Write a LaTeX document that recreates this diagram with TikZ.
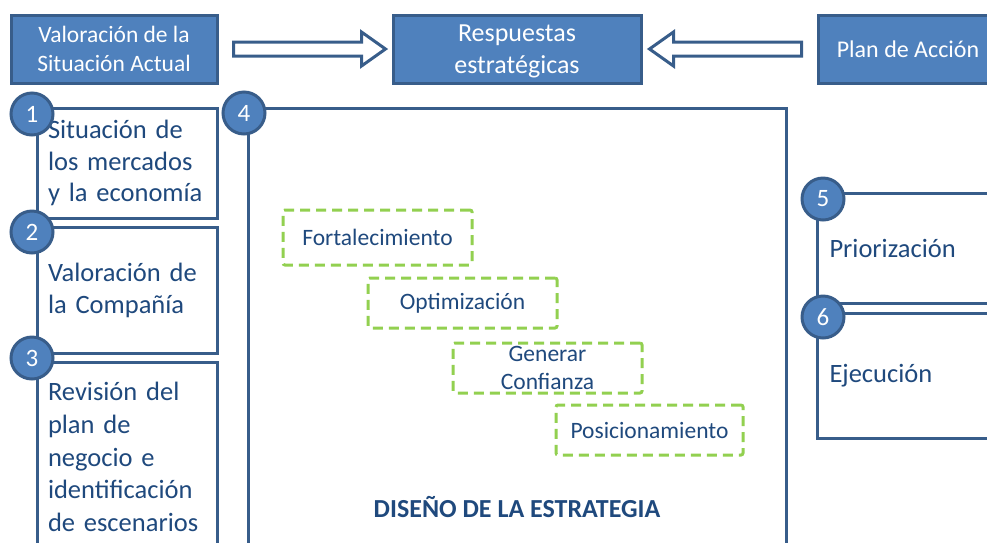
\documentclass[tikz,border=0pt]{standalone}
\usepackage{fontspec}
\setmainfont{Carlito}
\usetikzlibrary{calc}

\begin{document}
\begin{tikzpicture}[x=1pt,y=-1pt,
  topbox/.style={draw=edge,line width=3pt,fill=accent,text=white,align=center,inner sep=0pt},
  stagebox/.style={draw=edge,line width=3pt,fill=white,text=ink,align=left,inner xsep=11pt,anchor=center},
  numcirc/.style={circle,draw=edge,line width=3pt,fill=accent,text=white,minimum size=42pt,inner sep=0pt,font=\fontsize{25}{28}\selectfont},
  linebox/.style={draw=leaf,line width=3pt,dash pattern=on 10pt off 6pt,rounded corners=2pt,text=ink,align=center,inner sep=0pt,font=\fontsize{23.5}{28}\selectfont},
  hollow/.style={draw=edge,line width=3pt,fill=white,line join=miter}]
% Define colours
\definecolor{accent}{RGB}{79,129,189}
\definecolor{edge}{RGB}{56,93,138}
\definecolor{ink}{RGB}{31,73,125}
\definecolor{leaf}{RGB}{146,208,80}

\clip (0,0) rectangle (987,542);

% Top row
\node[topbox,minimum width=206,minimum height=68,font=\fontsize{23.5}{29}\selectfont] (valor) at (114,49) {Valoración de la\\Situación Actual};
\node[topbox,minimum width=248,minimum height=68,font=\fontsize{26}{32}\selectfont] (resp) at (517,49) {\strut Respuestas\\estratégicas};
\node[topbox,minimum width=180,minimum height=68,font=\fontsize{24}{29}\selectfont] (plan) at (908,49) {Plan de Acción};

% Block arrows
\draw[hollow] ($(valor.east)+(15,-7)$) -- ($(resp.west)+(-30,-7)$) -- ($(resp.west)+(-30,-17)$)
  -- ($(resp.west)+(-6,0)$) -- ($(resp.west)+(-30,17)$) -- ($(resp.west)+(-30,7)$)
  -- ($(valor.east)+(15,7)$) -- cycle;
\draw[hollow] ($(plan.west)+(-15,-7)$) -- ($(resp.east)+(31,-7)$) -- ($(resp.east)+(31,-17)$)
  -- ($(resp.east)+(7,0)$) -- ($(resp.east)+(31,17)$) -- ($(resp.east)+(31,7)$)
  -- ($(plan.west)+(-15,7)$) -- cycle;

% Left column
\node[stagebox,minimum width=180,minimum height=110,text width=158,font=\fontsize{26.5}{31.5}\selectfont] (mercados) at (127,163) {Situación de\\los mercados\\y la economía};
\node[stagebox,minimum width=180,minimum height=126,text width=158,font=\fontsize{26.5}{32}\selectfont] (compania) at (127,290) {Valoración de\\la Compañía};
\node[stagebox,minimum width=180,minimum height=190,text width=158,font=\fontsize{26.5}{32.8}\selectfont] (revision) at (127,457) {Revisión del\\plan de\\negocio e\\identificación\\de escenarios};

% Strategy design
\node[draw=edge,line width=3pt,minimum width=538,minimum height=452] (diseno) at (517,334) {};
\node[linebox,minimum width=189,minimum height=55] (fort) at (377.5,237.5) {Fortalecimiento};
\node[linebox,minimum width=189,minimum height=50] (optim) at (462.5,303) {Optimización};
\node[linebox,minimum width=189,minimum height=50] (conf) at (547.5,368) {Generar\\Confianza};
\node[linebox,minimum width=187,minimum height=50] (posic) at (649.5,430) {Posicionamiento};
\node[text=ink,font=\fontsize{26}{30}\selectfont\bfseries] (titulo) at (517,507) {DISEÑO DE LA ESTRATEGIA};

% Right column
\node[stagebox,minimum width=181,minimum height=110,text width=160,inner xsep=12pt,font=\fontsize{26.5}{32}\selectfont] (prior) at (909.5,248) {Priorización};
\node[stagebox,minimum width=181,minimum height=125,text width=160,inner xsep=12pt,font=\fontsize{26.5}{32}\selectfont] (ejec) at (909.5,375.5) {Ejecución};

% Step numbers
\node[numcirc] (n1) at (32,114) {1};
\node[numcirc] (n2) at (32,232) {2};
\node[numcirc] (n3) at (32,358) {3};
\node[numcirc] (n4) at (244,113) {4};
\node[numcirc] (n5) at (823,199) {5};
\node[numcirc] (n6) at (823,317) {6};
\end{tikzpicture}
\end{document}
